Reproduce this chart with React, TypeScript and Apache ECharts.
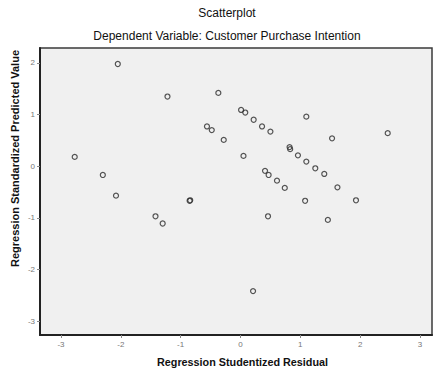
import React, { useEffect, useRef } from "react";
import * as echarts from "echarts";

const residuals = [-2.77, -2.30, -2.08, -2.05, -1.42, -1.30, -1.22, -0.85, -0.84, -0.56, -0.48, -0.37, -0.28, 0.01, 0.08, 0.05, 0.22, 0.36, 0.50, 0.21, 0.41, 0.47, 0.61, 0.74, 0.46, 0.82, 0.83, 0.96, 1.10, 1.25, 1.40, 1.10, 1.08, 1.53, 1.46, 1.62, 1.93, 2.46];
const predicted = [0.18, -0.17, -0.57, 1.98, -0.97, -1.11, 1.35, -0.67, -0.66, 0.77, 0.70, 1.42, 0.51, 1.09, 1.04, 0.20, 0.90, 0.77, 0.67, -2.42, -0.09, -0.17, -0.28, -0.42, -0.97, 0.37, 0.33, 0.21, 0.09, -0.04, -0.15, 0.96, -0.67, 0.54, -1.04, -0.41, -0.66, 0.64];
const xTicks = [-3, -2, -1, 0, 1, 2, 3];
const yTicks = [-3, -2, -1, 0, 1, 2];

export default function App() {
  const ref = useRef<HTMLDivElement>(null);
  useEffect(() => {
    if (!ref.current) return;
    const chart = echarts.init(ref.current, null, { renderer: "svg" });
    const font = "Liberation Sans";
    chart.setOption({
      animation: false,
      backgroundColor: "#ffffff",
      textStyle: { fontFamily: font },
      title: [
        { text: "Scatterplot", left: 222, top: 2, textAlign: "center", textStyle: { fontSize: 12, fontWeight: "normal", color: "#111", fontFamily: font } },
        { text: "Dependent Variable: Customer Purchase Intention", left: 222, top: 25, textAlign: "center", textStyle: { fontSize: 12, fontWeight: "normal", color: "#111", fontFamily: font } },
      ],
      graphic: [
        { type: "text", left: 157, top: 356, style: { text: "Regression Studentized Residual", font: "bold 10.8px Liberation Sans", fill: "#111" } },
        { type: "text", x: 9, y: 267, rotation: Math.PI / 2, style: { text: "Regression Standardized Predicted Value", font: "bold 11px Liberation Sans", fill: "#111" } },
      ],
      grid: { left: 40, top: 48, right: 2, bottom: 36, show: true, backgroundColor: "#f0f0f0", borderColor: "#3a3a3a", borderWidth: 1.5 },
      xAxis: {
        type: "value", min: -3.35, max: 3.2,
        axisLine: { show: true, onZero: false, lineStyle: { color: "#222", width: 2 } },
        axisTick: { show: true, customValues: xTicks, length: 3, lineStyle: { color: "#888" } },
        axisLabel: { customValues: xTicks, fontSize: 8, color: "#777", margin: 5, formatter: (v: number) => String(Math.round(v)) },
        splitLine: { show: false },
      },
      yAxis: {
        type: "value", min: -3.27, max: 2.29,
        axisLine: { show: true, onZero: false, lineStyle: { color: "#222", width: 2 } },
        axisTick: { show: true, customValues: yTicks, length: 3, lineStyle: { color: "#888" } },
        axisLabel: { customValues: yTicks, fontSize: 8, color: "#777", margin: 5, formatter: (v: number) => String(Math.round(v)) },
        splitLine: { show: false },
      },
      series: [
        {
          type: "scatter",
          data: residuals.map((x, i) => [x, predicted[i]]),
          symbol: "circle",
          symbolSize: 5,
          itemStyle: { color: "rgba(255,255,255,0)", borderColor: "#2a2a2a", borderWidth: 1.2 },
        },
      ],
    });
    return () => chart.dispose();
  }, []);
  return <div ref={ref} style={{ width: 434, height: 371, position: "absolute", left: 0, top: 0 }} />;
}
